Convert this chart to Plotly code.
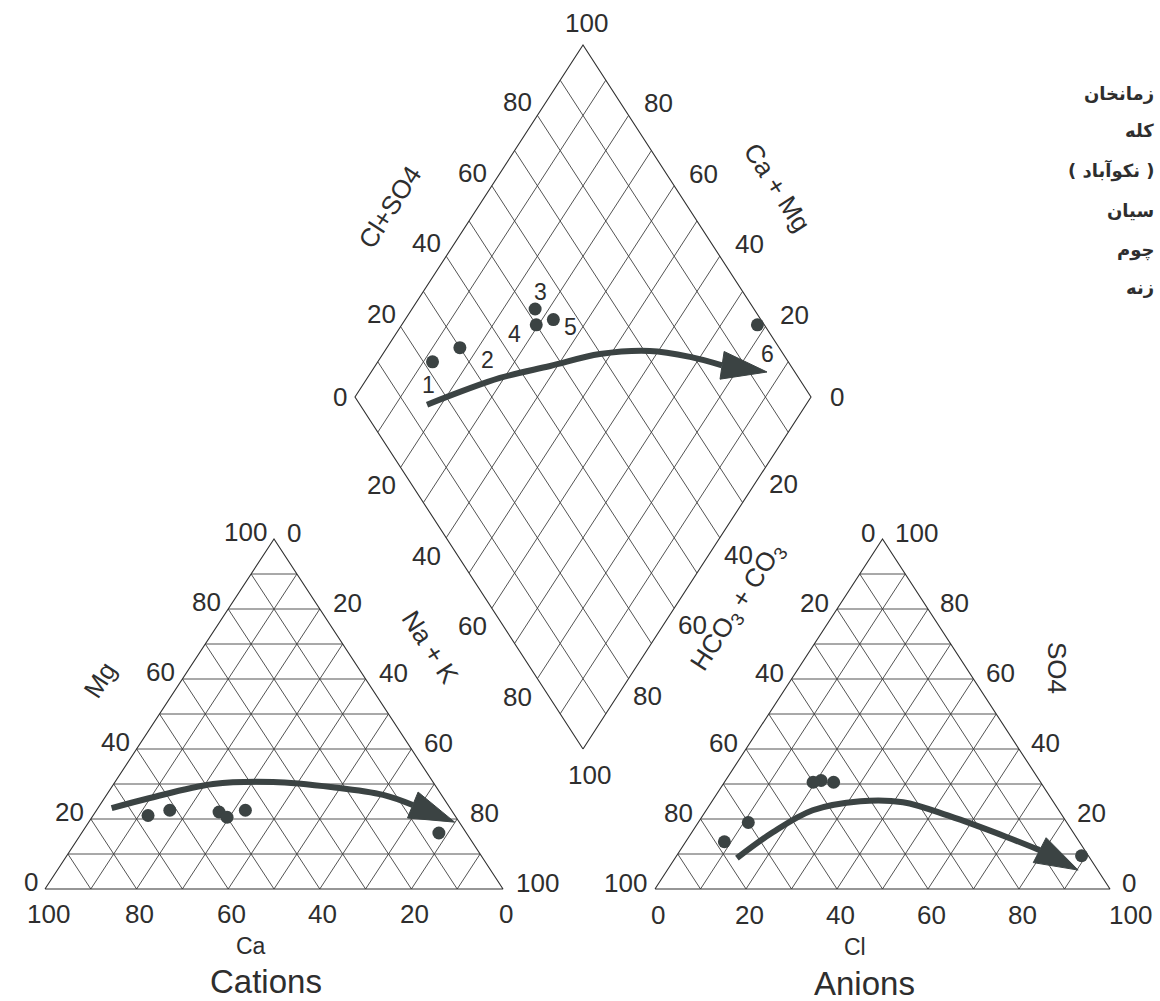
import numpy as np
import plotly.graph_objects as go

# ---------------- data ----------------
samples = ["1", "2", "3", "4", "5", "6"]
ca_pct = [67, 61.5, 51, 50, 45, 6]          # Ca %
mg_pct = [21, 22.5, 22, 20.5, 22.5, 16]     # Mg %
cl_pct = [8.5, 11, 21, 19.5, 24, 89]        # Cl %
so4_pct = [13.5, 19, 31, 30.5, 30.5, 9.5]   # SO4 %

tick_vals = [0, 20, 40, 60, 80, 100]
grid_vals = [10, 20, 30, 40, 50, 60, 70, 80, 90]

# trend arrows (compositions along the path, last point = arrow tip)
cat_arrow_ca = [73.9, 64.1, 48.3, 34.9, 22.6, 12.7, 7.7, 1.0]
cat_arrow_mg = [23.1, 26.0, 30.0, 30.6, 29.1, 26.9, 24.0, 19.1]
an_arrow_cl = [13.6, 17.8, 23.4, 32.6, 42.1, 54.4, 70.0, 79.0, 90.3]
an_arrow_so4 = [8.8, 16.2, 22.5, 25.1, 24.8, 20.8, 14.8, 11.1, 5.4]
dia_arrow_s = [14.7, 34.5, 47.2, 59.8, 71.2, 79.2, 85.0, 93.9]   # Cl+SO4 %
dia_arrow_c = [83.1, 70.9, 61.6, 52.4, 41.9, 32.2, 24.0, 13.2]   # Ca+Mg %

legend_names = ["زمانخان", "کله", "( نکوآباد )", "سیان", "چوم", "زنه"]

# ---------------- layout geometry ----------------
CAT_L, CAT_R, CAT_A = np.array([45, 889.0]), np.array([503, 889.0]), np.array([274, 539.0])
AN_L, AN_R, AN_A = np.array([655, 889.0]), np.array([1110, 889.0]), np.array([882.5, 539.0])
DIA_B, DIA_RV, DIA_LV = np.array([583, 749.0]), np.array([811, 397.0]), np.array([355, 397.0])

INK = "#3b4343"
TXT = "#2e2e2e"
FONT = "Liberation Sans, Arial, sans-serif"
TICK_SIZE = 26


def tern(left, right, top, L, R, A):
    return (left * L + right * R + top * A) / 100.0


def cat(ca, nak, mg):
    return tern(ca, nak, mg, CAT_L, CAT_R, CAT_A)


def an(hco3, cl, so4):
    return tern(hco3, cl, so4, AN_L, AN_R, AN_A)


def dia(s, c):
    return DIA_B + s / 100.0 * (DIA_RV - DIA_B) + c / 100.0 * (DIA_LV - DIA_B)


fig = go.Figure()

# ---------------- grids ----------------
gx, gy = [], []


def seg(p, q):
    gx.extend([p[0], q[0], None])
    gy.extend([p[1], q[1], None])


for f in (cat, an):
    for v in grid_vals:
        seg(f(100 - v, 0, v), f(0, 100 - v, v))
        seg(f(v, 100 - v, 0), f(v, 0, 100 - v))
        seg(f(100 - v, v, 0), f(0, v, 100 - v))
for v in grid_vals:
    seg(dia(v, 0), dia(v, 100))
    seg(dia(0, v), dia(100, v))

fig.add_trace(go.Scatter(x=gx, y=gy, mode="lines", line=dict(color="#404040", width=0.9),
                         hoverinfo="skip", showlegend=False))

# outlines
ox, oy = [], []
for f in (cat, an):
    pts = [f(100, 0, 0), f(0, 100, 0), f(0, 0, 100), f(100, 0, 0)]
    ox.extend([p[0] for p in pts] + [None])
    oy.extend([p[1] for p in pts] + [None])
pts = [dia(0, 0), dia(100, 0), dia(100, 100), dia(0, 100), dia(0, 0)]
ox.extend([p[0] for p in pts] + [None])
oy.extend([p[1] for p in pts] + [None])
fig.add_trace(go.Scatter(x=ox, y=oy, mode="lines", line=dict(color="#2f2f2f", width=1.1),
                         hoverinfo="skip", showlegend=False))

# ---------------- arrows ----------------


def draw_arrow(points, head_w=14):
    pts = np.array(points)
    fig.add_trace(go.Scatter(x=pts[:-1, 0], y=pts[:-1, 1], mode="lines",
                             line=dict(color=INK, width=6, shape="spline", smoothing=1.0),
                             hoverinfo="skip", showlegend=False))
    tip, base = pts[-1], pts[-2]
    d = tip - base
    n = np.array([-d[1], d[0]]) / np.hypot(*d)
    c1, c2 = base + n * head_w, base - n * head_w
    fig.add_trace(go.Scatter(x=[c1[0], tip[0], c2[0], c1[0]], y=[c1[1], tip[1], c2[1], c1[1]],
                             mode="lines", fill="toself", fillcolor=INK,
                             line=dict(color=INK, width=1), hoverinfo="skip", showlegend=False))


draw_arrow([cat(c, 100 - c - m, m) for c, m in zip(cat_arrow_ca, cat_arrow_mg)])
draw_arrow([an(100 - c - s, c, s) for c, s in zip(an_arrow_cl, an_arrow_so4)])
draw_arrow([dia(s, c) for s, c in zip(dia_arrow_s, dia_arrow_c)])

# ---------------- sample points ----------------
nak_pct = [100 - a - b for a, b in zip(ca_pct, mg_pct)]
hco3_pct = [100 - a - b for a, b in zip(cl_pct, so4_pct)]
cat_pts = [cat(a, n, m) for a, n, m in zip(ca_pct, nak_pct, mg_pct)]
an_pts = [an(h, c, s) for h, c, s in zip(hco3_pct, cl_pct, so4_pct)]
dia_pts = [dia(c + s, a + m) for c, s, a, m in zip(cl_pct, so4_pct, ca_pct, mg_pct)]

for pts in (cat_pts, an_pts, dia_pts):
    fig.add_trace(go.Scatter(x=[p[0] for p in pts], y=[p[1] for p in pts], mode="markers",
                             marker=dict(size=13, color=INK), text=samples,
                             hoverinfo="text", showlegend=False))

annotations = []


def txt(x, y, s, size=TICK_SIZE, xanchor="center", angle=0, family=FONT, bold=False):
    annotations.append(dict(x=x, y=y, xref="x", yref="y", text=("<b>%s</b>" % s) if bold else s,
                            showarrow=False, xanchor=xanchor, yanchor="middle", textangle=angle,
                            font=dict(size=size, color=TXT, family=family)))


# sample number labels (offset from diamond points)
label_offsets = [(-4, 23), (28, 12), (5, -17), (-22, 9), (17, 7), (10, 29)]
for p, (dx, dy), s in zip(dia_pts, label_offsets, samples):
    txt(p[0] + dx, p[1] + dy, s, size=23)

# ---------------- tick labels ----------------
for t in tick_vals:
    p = cat(t, 100 - t, 0)
    txt(p[0] + 3, p[1] + 25, str(t))
    p = cat(100 - t, 0, t)
    txt(p[0] - 5, p[1] - 7, str(t), xanchor="right")
    p = cat(0, t, 100 - t)
    txt(p[0] + 11, p[1] - 6, str(t), xanchor="left")
    p = an(100 - t, t, 0)
    if t == 100:
        txt(p[0] - 3, p[1] + 26, str(t), xanchor="left")
    else:
        txt(p[0] + 3, p[1] + 26, str(t))
    p = an(t, 0, 100 - t)
    txt(p[0] - 6, p[1] - 6, str(t), xanchor="right")
    p = an(0, 100 - t, t)
    txt(p[0] + 10, p[1] - 6, str(t), xanchor="left")

for t in tick_vals[1:-1]:
    p = dia(t, 100)
    txt(p[0] - 3, p[1] - 13, str(t), xanchor="right")
    p = dia(100, t)
    txt(p[0] + 13, p[1] - 12, str(t), xanchor="left")
    p = dia(0, 100 - t)
    txt(p[0] - 3, p[1] + 18, str(t), xanchor="right")
    p = dia(100 - t, 0)
    txt(p[0] + 2, p[1] + 17, str(t), xanchor="left")

p = dia(0, 100)
txt(p[0] - 15, p[1], "0")
p = dia(100, 0)
txt(p[0] + 26, p[1], "0")
p = dia(100, 100)
txt(p[0] + 3, p[1] - 22, "100")
p = dia(0, 0)
txt(p[0] + 6, p[1] + 26, "100")

# ---------------- axis titles ----------------
txt(390, 207, "Cl+SO4", angle=-57)
txt(777, 187, "Ca + Mg", angle=57)
txt(430, 647, "Na + K", angle=57)
txt(737, 607, "HCO<sub>3</sub> + CO<sub>3</sub>", angle=-57)
txt(100, 680, "Mg", angle=-57)
txt(1057, 668, "SO4", angle=90)
txt(251, 946, "Ca", size=23)
txt(266, 981, "Cations", size=33)
txt(855, 947, "Cl", size=23)
txt(864, 983, "Anions", size=33)

# ---------------- legend (Persian names) ----------------
legend_y = [93, 130, 170, 210, 250, 287]
for name, y in zip(legend_names, legend_y):
    txt(1156, y, name, size=18, xanchor="right", family="DejaVu Sans, Noto Sans, sans-serif", bold=True)

fig.update_layout(
    width=1160, height=1001,
    margin=dict(l=0, r=0, t=0, b=0),
    paper_bgcolor="white", plot_bgcolor="white",
    xaxis=dict(range=[0, 1160], visible=False, fixedrange=True),
    yaxis=dict(range=[1001, 0], visible=False, fixedrange=True),
    annotations=annotations,
    showlegend=False,
)

fig.write_html("out.html", config={"displayModeBar": False},
               post_script="document.body.style.margin='0';document.body.style.overflow='hidden';")
